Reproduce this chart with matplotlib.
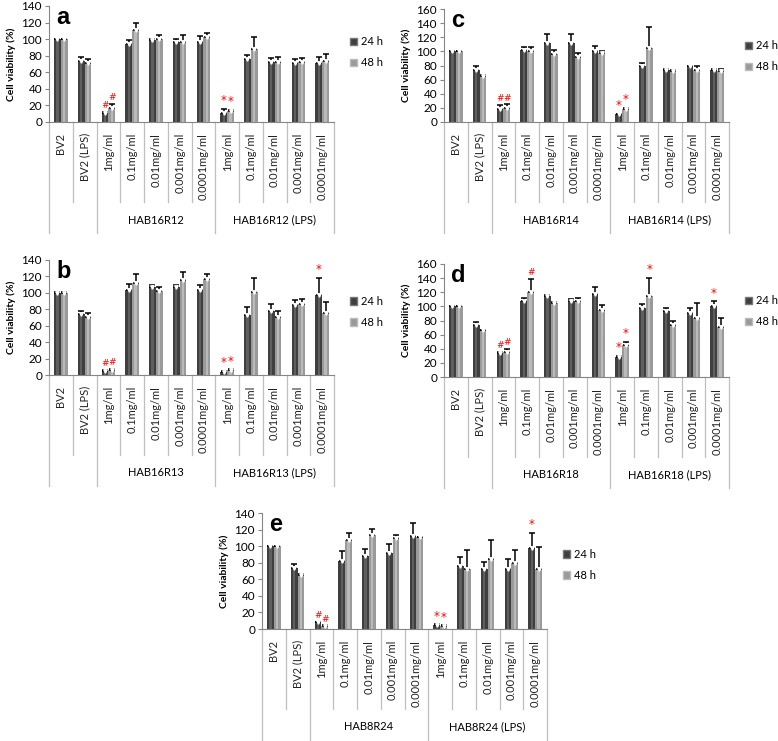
import matplotlib.pyplot as plt
import numpy as np
from matplotlib.patches import Patch

plt.rcParams['font.family'] = ['Lato', 'DejaVu Sans']

# --- Data ---
categories = ["BV2", "BV2 (LPS)", "1mg/ml", "0.1mg/ml", "0.01mg/ml", "0.001mg/ml", "0.0001mg/ml",
              "1mg/ml", "0.1mg/ml", "0.01mg/ml", "0.001mg/ml", "0.0001mg/ml"]
series = ["24 h", "48 h"]

# panel a : HAB16R12
a_24 = [100, 74, 11, 94, 99, 96, 96, 11, 76, 73, 71, 71]
a_24_err = [0.5, 4, 1, 5, 1, 4.5, 8, 5, 5, 4, 4.5, 8]
a_48 = [100, 71, 17, 111, 100, 96, 102, 13, 88, 73, 73, 74]
a_48_err = [0.5, 5, 4.5, 8, 5, 9, 6, 1.5, 14, 5.5, 4, 7.5]

# panel b : HAB16R13
b_24 = [100, 74, 5, 104, 107, 107, 104, 4, 73, 78, 85, 98]
b_24_err = [0.5, 4, 1.5, 7, 2, 3, 5, 1, 10, 8, 6, 20]
b_48 = [100, 71, 6, 112, 102, 116, 117, 6, 101, 71, 87, 75]
b_48_err = [0.5, 4.5, 1.5, 11, 5, 10, 6, 1, 17, 7, 5, 14]

# panel c : HAB16R14
c_24 = [100, 74, 19, 102, 112, 112, 101, 11, 79, 73, 80, 73]
c_24_err = [0.5, 5, 5.5, 4, 12.5, 12.5, 7, 1, 4.5, 1.5, 0, 1.5]
c_48 = [100, 65, 20, 100, 96, 92, 98, 19, 105, 72, 74, 72]
c_48_err = [0.5, 1, 5, 5.5, 6, 6, 3, 1, 30, 1.5, 6, 2.5]

# panel d : HAB16R18
d_24 = [100, 74, 34, 107, 114, 108, 117, 28, 98, 94, 91, 100]
d_24_err = [0.5, 4, 1.5, 5, 1.5, 2.5, 11, 2, 5.5, 4, 7, 7]
d_48 = [100, 66, 35, 120, 105, 108, 95, 45, 114, 74, 84, 71]
d_48_err = [0.5, 1, 4.5, 19, 1.5, 4, 7, 4.5, 26, 6, 21, 12]

# panel e : HAB8R24
e_24 = [100, 74, 8, 82, 88, 92, 112, 5, 76, 72, 72, 98]
e_24_err = [0.5, 4, 1, 12, 8, 11, 16, 0.5, 11, 9, 13, 18]
e_48 = [100, 65, 4, 107, 114, 110, 111, 4, 73, 85, 80, 72]
e_48_err = [0.5, 1, 0.5, 9, 7, 4, 0, 0.5, 22, 22, 15, 27]

# significance marks: (category index, series index, symbol)
a_marks = [(2, 0, '#'), (2, 1, '#'), (7, 0, '*'), (7, 1, '*')]
b_marks = [(2, 0, '#'), (2, 1, '#'), (7, 0, '*'), (7, 1, '*'), (11, 0, '*')]
c_marks = [(2, 0, '#'), (2, 1, '#'), (7, 0, '*'), (7, 1, '*')]
d_marks = [(2, 0, '#'), (2, 1, '#'), (3, 1, '#'), (7, 0, '*'), (7, 1, '*'), (8, 1, '*'), (11, 0, '*')]
e_marks = [(2, 0, '#'), (2, 1, '#'), (7, 0, '*'), (7, 1, '*'), (11, 0, '*')]

# --- Style ---
W, H = 778, 741
dark, dark_hi = "#3f3f3f", "#6e6e6e"
light, light_hi = "#9a9a9a", "#c9c9c9"
grid_col = "#bfbfbf"
bw, off = 0.28, 0.145

fig = plt.figure(figsize=(W / 100, H / 100), dpi=100)


def add_axes(left, top, right, bottom):
    return fig.add_axes([left / W, 1 - bottom / H, (right - left) / W, (bottom - top) / H])


def draw_panel(ax, letter, ymax, v24, e24, v48, e48, group, marks, leg_y):
    x = np.arange(len(categories))
    for xs, vals, errs, col, hi in [(x - off, v24, e24, dark, dark_hi),
                                     (x + off, v48, e48, light, light_hi)]:
        ax.bar(xs, vals, width=bw, color=col, zorder=2)
        ax.bar(xs, vals, width=bw * 0.35, color=hi, alpha=0.7, zorder=2)
        ax.errorbar(xs, vals, yerr=[np.zeros(len(vals)), errs], fmt='none',
                    ecolor='black', elinewidth=1.1, capsize=2.3, capthick=1.1, zorder=3)
        ax.plot(xs, vals, 'v', color='white', markersize=2.5, zorder=4)

    for i, s, sym in marks:
        xs = i - off if s == 0 else i + off
        top = (v24 if s == 0 else v48)[i] + (e24 if s == 0 else e48)[i]
        ax.text(xs, top + ymax * 0.015, sym, color='red', ha='center', va='bottom',
                fontsize=8.5 if sym == '*' else 6.5, family='DejaVu Sans', zorder=5)

    ax.set_xlim(-0.5, len(categories) - 0.5)
    ax.set_ylim(0, ymax)
    ax.set_yticks(np.arange(0, ymax + 1, 20))
    ax.tick_params(axis='y', labelsize=8.5, length=3, color='#868686', pad=2)
    ax.set_xticks([])
    for sp in ['top', 'right']:
        ax.spines[sp].set_visible(False)
    ax.spines['left'].set_color('#868686')
    ax.spines['bottom'].set_color('#868686')
    ax.set_ylabel("Cell viability (%)", fontsize=7.5, fontweight='bold', labelpad=4)

    ax.text(0.025, 1.0, letter, transform=ax.transAxes, fontsize=17, fontweight='bold',
            family='Liberation Sans', va='top', ha='left')

    # multi-level category axis below the plot
    h_px = ax.get_position().height * H
    tr = ax.get_xaxis_transform()
    for i, lab in enumerate(categories):
        ax.text(i, -11 / h_px, lab, rotation=90, ha='center', va='top', fontsize=8,
                transform=tr, color='#222222')
    for b in np.arange(-0.5, len(categories), 1.0):
        depth = 111 if b in (-0.5, 1.5, 6.5, 11.5) else 80
        ax.plot([b, b], [0, -depth / h_px], color=grid_col, lw=0.9, transform=tr, clip_on=False)
    ax.text(4, -98 / h_px, group[0], ha='center', va='center', fontsize=8, transform=tr)
    ax.text(9, -98 / h_px, group[1], ha='center', va='center', fontsize=8, transform=tr)

    handles = [Patch(facecolor=dark, edgecolor='#777777'), Patch(facecolor=light, edgecolor='#bbbbbb')]
    ax.legend(handles, series, loc='center left', bbox_to_anchor=(1.055, leg_y), frameon=False,
              fontsize=8, handlelength=0.7, handleheight=0.7, handletextpad=0.3,
              labelspacing=0.9, borderaxespad=0, borderpad=0)


ax_a = add_axes(49, 6, 334, 122)
draw_panel(ax_a, 'a', 140, a_24, a_24_err, a_48, a_48_err, ("HAB16R12", "HAB16R12 (LPS)"), a_marks, 0.60)

ax_c = add_axes(444, 9, 729, 122)
draw_panel(ax_c, 'c', 160, c_24, c_24_err, c_48, c_48_err, ("HAB16R14", "HAB16R14 (LPS)"), c_marks, 0.58)

ax_b = add_axes(49, 260, 334, 375)
draw_panel(ax_b, 'b', 140, b_24, b_24_err, b_48, b_48_err, ("HAB16R13", "HAB16R13 (LPS)"), b_marks, 0.55)

ax_d = add_axes(444, 264, 729, 377)
draw_panel(ax_d, 'd', 160, d_24, d_24_err, d_48, d_48_err, ("HAB16R18", "HAB16R18 (LPS)"), d_marks, 0.58)

ax_e = add_axes(262, 513, 547, 629)
draw_panel(ax_e, 'e', 140, e_24, e_24_err, e_48, e_48_err, ("HAB8R24", "HAB8R24 (LPS)"), e_marks, 0.55)

fig.savefig("out.png", dpi=100)
plt.close(fig)
